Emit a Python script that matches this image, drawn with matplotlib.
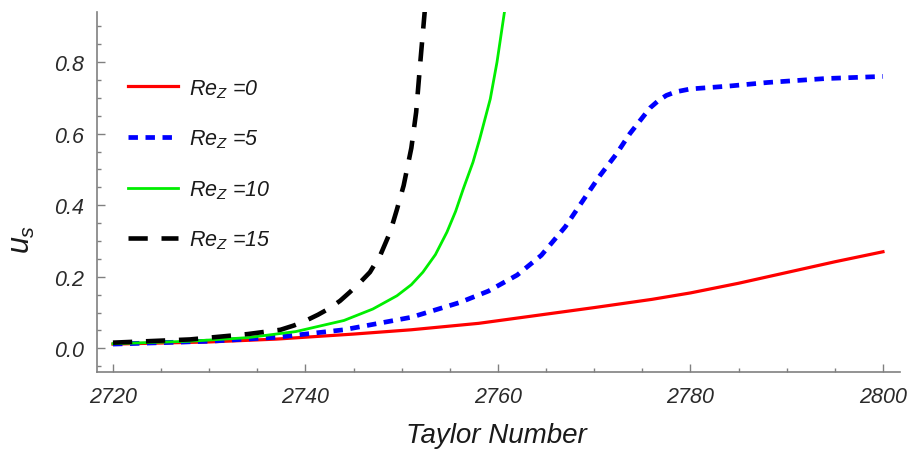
import matplotlib
matplotlib.use("Agg")
import matplotlib.pyplot as plt

plt.rcParams['font.family'] = ['Liberation Sans', 'DejaVu Sans']
plt.rcParams['font.style'] = 'italic'
plt.rcParams['mathtext.fontset'] = 'custom'
plt.rcParams['mathtext.it'] = 'Liberation Sans:italic'
plt.rcParams['mathtext.rm'] = 'Liberation Sans:italic'

# Re_Z = 0
ta_re0 = [2720, 2730, 2737, 2745, 2751, 2758, 2764, 2770, 2776, 2780, 2785, 2790, 2795, 2800]
us_re0 = [0.012, 0.018, 0.026, 0.040, 0.052, 0.070, 0.092, 0.114, 0.137, 0.155, 0.182, 0.212, 0.242, 0.270]

# Re_Z = 5
ta_re5 = [2720, 2730, 2737, 2744, 2751, 2756, 2759, 2762, 2764.5, 2767, 2769, 2770.6, 2772.3,
          2773.7, 2775.8, 2776.7, 2777.5, 2778.5, 2780, 2784, 2788, 2794, 2800]
us_re5 = [0.012, 0.020, 0.031, 0.052, 0.087, 0.128, 0.160, 0.205, 0.260, 0.340, 0.420, 0.483, 0.543,
          0.600, 0.672, 0.693, 0.707, 0.717, 0.725, 0.733, 0.743, 0.754, 0.760]

# Re_Z = 10
ta_re10 = [2720, 2728, 2734, 2739, 2744, 2747, 2749.5, 2751, 2752.2, 2753.5, 2754.7, 2755.6, 2756.4,
           2757.4, 2758.1, 2759.2, 2759.9, 2760.7]
us_re10 = [0.013, 0.020, 0.030, 0.047, 0.078, 0.110, 0.147, 0.178, 0.213, 0.262, 0.325, 0.383, 0.446,
           0.520, 0.585, 0.697, 0.800, 0.945]

# Re_Z = 15
ta_re15 = [2720, 2728, 2734, 2737.4, 2738.8, 2740, 2741.3, 2742.5, 2743.6, 2744.6, 2745.7, 2746.7,
           2747.8, 2748.8, 2749.5, 2750.2, 2751.0, 2751.5, 2751.9, 2752.4]
us_re15 = [0.016, 0.025, 0.040, 0.052, 0.064, 0.077, 0.094, 0.112, 0.133, 0.157, 0.185, 0.213,
           0.262, 0.325, 0.388, 0.455, 0.560, 0.660, 0.790, 0.945]

labels = ["$Re_Z$ =0", "$Re_Z$ =5", "$Re_Z$ =10", "$Re_Z$ =15"]

fig = plt.figure(figsize=(9.08, 4.52), dpi=100)
ax = fig.add_axes([97 / 908, 79 / 452, 803 / 908, 360 / 452])

ax.plot(ta_re0, us_re0, color='#ff0000', lw=2.3, label=labels[0])
ax.plot(ta_re5, us_re5, color='#0000ff', lw=3.4, dashes=(2.0, 1.6), label=labels[1])
ax.plot(ta_re10, us_re10, color='#00ee00', lw=2.0, label=labels[2])
ax.plot(ta_re15, us_re15, color='black', lw=3.3, dashes=(4.2, 3.0), label=labels[3])

ax.set_xlim(2718.34, 2801.77)
ax.set_ylim(-0.066, 0.94)

# axes look
for side in ['top', 'right']:
    ax.spines[side].set_visible(False)
for side in ['left', 'bottom']:
    ax.spines[side].set_color('#808080')
    ax.spines[side].set_linewidth(1.2)

ax.set_xticks([2720, 2740, 2760, 2780, 2800])
ax.set_xticks([2725, 2730, 2735, 2745, 2750, 2755, 2765, 2770, 2775, 2785, 2790, 2795], minor=True)
ax.set_yticks([0.0, 0.2, 0.4, 0.6, 0.8])
ax.set_yticks([-0.05, 0.05, 0.1, 0.15, 0.25, 0.3, 0.35, 0.45, 0.5, 0.55, 0.65, 0.7, 0.75, 0.85, 0.9], minor=True)
ax.tick_params(which='both', direction='in', color='#808080', width=1.0)
ax.tick_params(which='major', length=5.5)
ax.tick_params(which='minor', length=3)
ax.tick_params(axis='x', which='major', labelsize=15.5, pad=10, labelcolor='#2a2a2a')
ax.tick_params(axis='y', which='major', labelsize=15.5, pad=9, labelcolor='#2a2a2a')
ax.yaxis.set_major_formatter(matplotlib.ticker.FormatStrFormatter('%.1f'))

ax.set_xlabel("Taylor Number", fontsize=20, color='#1a1a1a')
ax.xaxis.set_label_coords(0.497, -0.14)
ax.set_ylabel("$u_s$", fontsize=22, color='#1a1a1a')
ax.yaxis.set_label_coords(-0.075, 0.37)

leg = ax.legend(loc='upper left', bbox_to_anchor=((128 - 97) / 803, (373 - 78) / 360),
                frameon=False, fontsize=15.5, handlelength=2.3, handletextpad=0.55,
                labelspacing=1.3, borderpad=0, borderaxespad=0)
for t in leg.get_texts():
    t.set_color('#1a1a1a')

fig.savefig("out.png", dpi=100)
